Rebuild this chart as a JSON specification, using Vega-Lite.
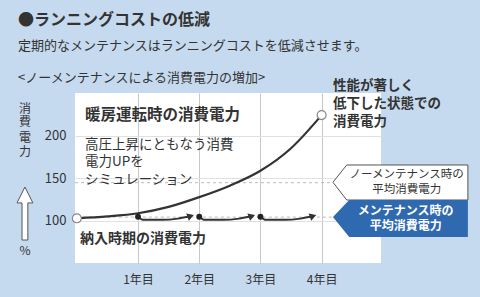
{
  "$schema": "https://vega.github.io/schema/vega-lite/v6.json",
  "width": 306,
  "height": 170,
  "autosize": {"type": "none"},
  "padding": {"left": 75, "top": 93, "right": 99, "bottom": 34},
  "background": "#C6DAEF",
  "config": {
    "font": "Noto Sans CJK JP",
    "view": {"fill": "white", "stroke": null},
    "text": {"color": "#333333"}
  },
  "title": {
    "text": "●ランニングコストの低減",
    "subtitle": ["定期的なメンテナンスはランニングコストを低減させます。", "<ノーメンテナンスによる消費電力の増加>"],
    "anchor": "start",
    "frame": "group",
    "dx": -57,
    "fontSize": 16,
    "fontWeight": "bold",
    "color": "#333333",
    "subtitleFontSize": 13,
    "subtitleColor": "#333333",
    "subtitleLineHeight": 32,
    "subtitlePadding": 12,
    "offset": -6
  },
  "datasets": {
    "curve": [
      {"t": 0, "v": 102.6}, {"t": 0.5, "v": 104.8}, {"t": 1, "v": 108.5}, {"t": 1.5, "v": 116},
      {"t": 2, "v": 127.5}, {"t": 2.5, "v": 141}, {"t": 3, "v": 158.5}, {"t": 3.5, "v": 185}, {"t": 4, "v": 224}
    ],
    "arrows": [
      {"seg": 1, "t": 1, "v": 104.5}, {"seg": 1, "t": 1.09, "v": 100.8}, {"seg": 1, "t": 1.4, "v": 100.8}, {"seg": 1, "t": 1.65, "v": 102.2}, {"seg": 1, "t": 1.82, "v": 104.3},
      {"seg": 2, "t": 2, "v": 104.5}, {"seg": 2, "t": 2.09, "v": 100.8}, {"seg": 2, "t": 2.4, "v": 100.8}, {"seg": 2, "t": 2.65, "v": 102.2}, {"seg": 2, "t": 2.82, "v": 104.3},
      {"seg": 3, "t": 3, "v": 104.5}, {"seg": 3, "t": 3.09, "v": 100.8}, {"seg": 3, "t": 3.4, "v": 100.8}, {"seg": 3, "t": 3.65, "v": 102.2}, {"seg": 3, "t": 3.82, "v": 104.3}
    ],
    "heads": [{"t": 1.86, "v": 105.2}, {"t": 2.86, "v": 105.2}, {"t": 3.86, "v": 105.2}],
    "dots": [{"t": 1, "v": 104.5}, {"t": 2, "v": 104.5}, {"t": 3, "v": 104.5}],
    "circles": [{"t": 0, "v": 102.6}, {"t": 4, "v": 224}],
    "dashed": [
      {"id": "a", "t": -0.03, "v": 144.5}, {"id": "a", "t": 4.185, "v": 144.5},
      {"id": "b", "t": 0, "v": 104}, {"id": "b", "t": 4.185, "v": 104}
    ],
    "whiteBox": [{"t": 4.185, "v": 145, "v2": 145}, {"t": 4.41, "v": 165.3, "v2": 124.1}, {"t": 6.39, "v": 165.3, "v2": 124.1}],
    "blueBox": [{"t": 4.185, "v": 104, "v2": 104}, {"t": 4.45, "v": 124.1, "v2": 80.6}, {"t": 6.39, "v": 124.1, "v2": 80.6}],
    "yArrow": [{"t": -0.848, "v": 108.2}],
    "plotTitle": [{"t": 0.132, "v": 224.1, "label": "暖房運転時の消費電力"}],
    "desc": [
      {"t": 0.132, "v": 188.8, "label": "高圧上昇にともなう消費"},
      {"t": 0.132, "v": 168.8, "label": "電力UPを"},
      {"t": 0.132, "v": 147.6, "label": "シミュレーション"}
    ],
    "nyuu": [{"t": 0.05, "v": 78.2, "label": "納入時期の消費電力"}],
    "perf": [
      {"t": 4.185, "v": 258.2, "label": "性能が著しく"},
      {"t": 4.185, "v": 237.1, "label": "低下した状態での"},
      {"t": 4.185, "v": 215.9, "label": "消費電力"}
    ],
    "whiteText": [
      {"t": 5.389, "v": 153.5, "label": "ノーメンテナンス時の"},
      {"t": 5.389, "v": 135.9, "label": "平均消費電力"}
    ],
    "blueText": [
      {"t": 5.374, "v": 111.5, "label": "メンテナンス時の"},
      {"t": 5.374, "v": 93.5, "label": "平均消費電力"}
    ],
    "yTitle": [
      {"t": -0.848, "v": 231.2, "label": "消"},
      {"t": -0.848, "v": 215.3, "label": "費"},
      {"t": -0.848, "v": 197.6, "label": "電"},
      {"t": -0.848, "v": 180.6, "label": "力"},
      {"t": -0.848, "v": 64.1, "label": "%"}
    ]
  },
  "encoding": {
    "x": {
      "field": "t", "type": "quantitative",
      "scale": {"domain": [-0.03, 4.97], "nice": false, "zero": false},
      "axis": {
        "values": [1, 2, 3, 4], "labelExpr": "datum.value + '年目'", "title": null,
        "domain": false, "ticks": false, "grid": true, "gridColor": "#C8C8C8",
        "labelFontSize": 12, "labelColor": "#333333", "labelPadding": 11, "labelFont": "Noto Sans CJK JP"
      }
    },
    "y": {
      "field": "v", "type": "quantitative",
      "scale": {"domain": [50, 250], "nice": false, "zero": false},
      "axis": {
        "values": [100, 150, 200], "title": null, "domain": false, "ticks": false,
        "grid": true, "gridColor": "#E0E0E0",
        "labelFontSize": 13, "labelColor": "#333333", "labelPadding": 9, "labelFont": "Noto Sans CJK JP"
      }
    }
  },
  "layer": [
    {"data": {"name": "dashed"}, "mark": {"type": "line", "color": "#BBBBBB", "strokeWidth": 1, "strokeDash": [3, 3]}, "encoding": {"detail": {"field": "id"}}},
    {"data": {"name": "whiteBox"}, "mark": {"type": "area", "fill": "white", "stroke": "#555555", "strokeWidth": 1, "opacity": 1}, "encoding": {"y2": {"field": "v2"}}},
    {"data": {"name": "blueBox"}, "mark": {"type": "area", "fill": "#2F69B0", "opacity": 1}, "encoding": {"y2": {"field": "v2"}}},
    {"data": {"name": "curve"}, "mark": {"type": "line", "color": "#333333", "strokeWidth": 2.2, "interpolate": "monotone"}, "encoding": {}},
    {"data": {"name": "arrows"}, "mark": {"type": "line", "color": "#333333", "strokeWidth": 2, "interpolate": "monotone"}, "encoding": {"detail": {"field": "seg"}}},
    {"data": {"name": "heads"}, "mark": {"type": "point", "shape": "triangle-right", "filled": true, "color": "#333333", "size": 60, "angle": -20, "opacity": 1}},
    {"data": {"name": "dots"}, "mark": {"type": "point", "shape": "circle", "filled": true, "color": "#222222", "size": 35, "opacity": 1}},
    {"data": {"name": "circles"}, "mark": {"type": "point", "shape": "circle", "filled": true, "fill": "white", "stroke": "#888888", "strokeWidth": 1.2, "size": 80, "opacity": 1}},
    {"data": {"name": "yArrow"}, "mark": {"type": "point", "shape": "M0,-1L0.3,-0.4L0.11,-0.4L0.11,1L-0.11,1L-0.11,-0.4L-0.3,-0.4Z", "filled": true, "fill": "white", "stroke": "#555555", "strokeWidth": 1, "size": 2809, "opacity": 1}},
    {"data": {"name": "plotTitle"}, "mark": {"type": "text", "align": "left", "baseline": "middle", "fontSize": 15.5, "fontWeight": "bold"}, "encoding": {"text": {"field": "label"}}},
    {"data": {"name": "desc"}, "mark": {"type": "text", "align": "left", "baseline": "middle", "fontSize": 13.5}, "encoding": {"text": {"field": "label"}}},
    {"data": {"name": "nyuu"}, "mark": {"type": "text", "align": "left", "baseline": "middle", "fontSize": 14, "fontWeight": "bold"}, "encoding": {"text": {"field": "label"}}},
    {"data": {"name": "perf"}, "mark": {"type": "text", "align": "left", "baseline": "middle", "fontSize": 13.5, "fontWeight": "bold"}, "encoding": {"text": {"field": "label"}}},
    {"data": {"name": "whiteText"}, "mark": {"type": "text", "align": "center", "baseline": "middle", "fontSize": 11.5}, "encoding": {"text": {"field": "label"}}},
    {"data": {"name": "blueText"}, "mark": {"type": "text", "align": "center", "baseline": "middle", "fontSize": 12, "fontWeight": "bold", "color": "white"}, "encoding": {"text": {"field": "label"}}},
    {"data": {"name": "yTitle"}, "mark": {"type": "text", "align": "center", "baseline": "middle", "fontSize": 12}, "encoding": {"text": {"field": "label"}}}
  ]
}
